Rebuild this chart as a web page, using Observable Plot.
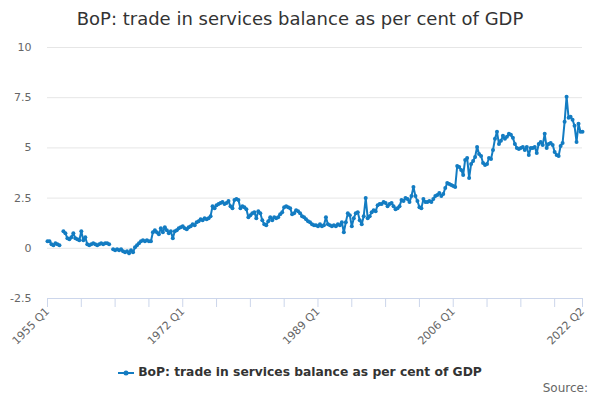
<!DOCTYPE html>
<html><head><meta charset="utf-8">
<script src="https://cdn.jsdelivr.net/npm/d3@7"></script>
<script src="https://cdn.jsdelivr.net/npm/@observablehq/plot@0.6"></script>
<style>
body{margin:0;background:#fff;}
#wrap{position:relative;width:600px;height:400px;font-family:"DejaVu Sans",sans-serif;overflow:hidden;}
#title{position:absolute;top:8px;left:0;width:600px;text-align:center;font-size:18px;color:#333;}
#chart{position:absolute;top:40px;left:0;}
#legend{position:absolute;top:365px;left:0;width:600px;text-align:center;font-size:12.3px;font-weight:bold;color:#333;}
#legend svg{vertical-align:middle;margin-right:4px;}
#source{position:absolute;top:381px;right:12px;font-size:12px;color:#666;}
</style></head>
<body>
<div id="wrap">
<div id="title"></div>
<div id="chart"></div>
<div id="legend"></div>
<div id="source">Source:</div>
</div>
<script>
const titleText = "BoP: trade in services balance as per cent of GDP";
const seriesName = "BoP: trade in services balance as per cent of GDP";
const startYear = 1955;
const values = [
 0.35, 0.35, 0.2, 0.15,
 0.25, 0.2, 0.15, null,
 0.85, 0.75, 0.5, 0.45,
 0.55, 0.75, 0.5, 0.45,
 0.4, 0.85, 0.4, 0.55,
 0.2, 0.15, 0.2, 0.25,
 0.2, 0.15, 0.2, 0.25,
 0.2, 0.25, 0.25, 0.2,
 null, -0.05, -0.1, -0.05,
 -0.1, -0.05, -0.15, -0.2,
 -0.15, -0.25, -0.1, -0.2,
 0.05, 0.15, 0.25, 0.35,
 0.4, 0.35, 0.4, 0.35,
 0.35, 0.8, 0.9, 0.8,
 0.7, 1.0, 0.8, 1.05,
 0.9, 0.75, 0.85, 0.5,
 0.85, 0.9, 1.0, 1.05,
 1.1, 1.0, 0.95, 1.05,
 1.1, 1.2, 1.15, 1.3,
 1.35, 1.45, 1.4, 1.5,
 1.45, 1.5, 1.6, 2.1,
 2.0, 2.15, 2.2, 2.25,
 2.3, 2.2, 2.25, 2.35,
 2.1, 2.0, 2.4, 2.45,
 2.4, 2.0, 2.1, 2.05,
 1.95, 1.55, 1.65, 1.75,
 1.8, 1.5, 1.85, 1.75,
 1.4, 1.2, 1.15, 1.35,
 1.55, 1.4, 1.55, 1.5,
 1.55, 1.7, 1.8, 2.05,
 2.1, 2.05, 2.0, 1.7,
 1.75, 1.9, 1.85, 1.75,
 1.6, 1.55, 1.45, 1.35,
 1.3, 1.2, 1.15, 1.15,
 1.1, 1.2, 1.1, 1.15,
 1.55, 1.2, 1.15, 1.1,
 1.15, 1.1, 1.2, 1.15,
 1.3, 0.8, 1.3, 1.75,
 1.65, 1.1, 1.5, 1.75,
 1.8, 1.4, 1.2, 1.6,
 2.5, 1.5, 1.6, 1.8,
 1.9, 1.85, 2.15, 2.2,
 2.2, 2.3, 2.25, 2.1,
 2.2, 2.25, 2.1, 1.95,
 2.0, 2.1, 2.4, 2.35,
 2.5, 2.45, 2.3, 2.6,
 3.05, 2.6, 2.35, 2.05,
 2.0, 2.45, 2.3, 2.3,
 2.35, 2.3, 2.45, 2.6,
 2.65, 2.75, 2.6, 2.7,
 3.0, 3.25, 3.2, 3.15,
 3.1, 3.05, 4.1, 4.05,
 3.9, 3.65, 4.4, 4.5,
 3.5, 4.2, 4.35, 4.55,
 5.05, 4.7, 4.6, 4.25,
 4.15, 4.2, 4.5, 4.45,
 4.9, 5.45, 5.8, 5.2,
 5.35, 5.6, 5.45, 5.55,
 5.7, 5.65, 5.5, 5.2,
 5.0, 4.95, 5.0, 5.05,
 4.9, 5.05, 4.65, 5.0,
 5.0, 5.05, 4.75, 5.2,
 5.3, 5.15, 5.7, 5.0,
 5.2, 5.25, 5.15, 4.8,
 4.65, 4.6, 5.1, 5.25,
 6.3, 7.55, 6.5, 6.55,
 6.4, 6.1, 5.3, 6.2,
 5.8, 5.8
];
const yTicks = [-2.5, 0, 2.5, 5, 7.5, 10];
const xTickLabels = ["1955 Q1", "1972 Q1", "1989 Q1", "2006 Q1", "2022 Q2"];
const xTickEvery = 17;

const quarters = values.map((v, i) => `${startYear + Math.floor(i / 4)} Q${(i % 4) + 1}`);
const data = values.map((v, i) => ({i, q: quarters[i], v}));
const last = values.length - 1;
const tickIdx = d3.range(0, last, xTickEvery).concat([last]);
const labelFor = new Map(xTickLabels.map(l => [quarters.indexOf(l), l]));
const color = "#137cc2";

document.getElementById("title").textContent = titleText;

const chart = Plot.plot({
  width: 600,
  height: 300,
  marginTop: 7,
  marginBottom: 42,
  marginLeft: 47,
  marginRight: 18,
  style: {fontFamily: "DejaVu Sans, sans-serif", fontSize: "11px", color: "#666", background: "transparent", overflow: "visible"},
  x: {type: "linear", domain: [0, last]},
  y: {domain: [-2.5, 10]},
  marks: [
    Plot.gridY(yTicks.filter(t => t > -2.5), {stroke: "#e6e6e6", strokeOpacity: 1}),
    Plot.ruleY([-2.5], {stroke: "#ccd6eb"}),
    Plot.axisY({ticks: yTicks, tickSize: 0, tickPadding: 16, tickFormat: d => String(d), label: null, fill: "#666"}),
    Plot.axisX({ticks: tickIdx, tickSize: 9, stroke: "#ccd6eb", strokeOpacity: 1, tickRotate: -45, tickPadding: 2,
      tickFormat: i => labelFor.get(i) ?? "", label: null, fill: "#666"}),
    Plot.line(data, {x: "i", y: "v", stroke: color, strokeWidth: 2}),
    Plot.dot(data, {x: "i", y: "v", r: 2, fill: color})
  ]
});
document.getElementById("chart").appendChild(chart);

const leg = document.getElementById("legend");
leg.innerHTML = `<svg width="16" height="12"><line x1="0" x2="16" y1="6" y2="6" stroke="${color}" stroke-width="2"/><circle cx="8" cy="6" r="2.5" fill="${color}"/></svg>`;
leg.appendChild(document.createTextNode(seriesName));
</script>
</body></html>
